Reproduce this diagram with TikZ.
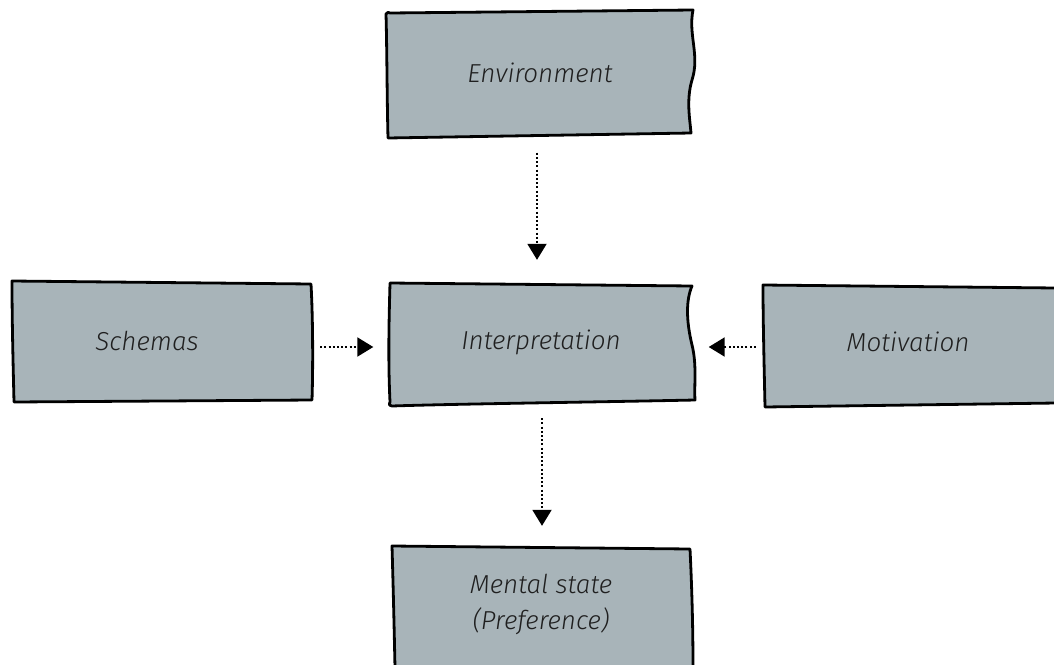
\documentclass[tikz,border=0pt]{standalone}
\usepackage{fontspec}
\setmainfont{Fira Sans Light}[ItalicFont={Fira Sans Light Italic}]
\usetikzlibrary{arrows.meta}
\definecolor{boxgray}{RGB}{168,180,185}
\tikzset{
  sketch/.style={draw=black, fill=boxgray, line width=2.8pt, line join=round, line cap=round},
  label/.style={font=\fontsize{26}{36}\selectfont\itshape, text=black!88, align=center},
  slot/.style={rectangle, inner sep=0pt},
  flow/.style={line width=2pt, dash pattern=on 2pt off 2.2pt,
    -{Triangle[length=16pt,width=19pt]}},
}
\begin{document}
\begin{tikzpicture}[x=1pt,y=-1pt]
\useasboundingbox (0,0) rectangle (1054,664);

% hand-drawn box outlines
\path[sketch] (386,14) .. controls (388,12) .. (390,13) -- (693,10)
  .. controls (688,35) and (700,55) .. (692,80)
  .. controls (686,100) and (690,120) .. (691,133)
  -- (388,138) .. controls (387,100) and (387,50) .. cycle;
\path[sketch] (12,281) -- (311,284) .. controls (313,320) and (313,370) .. (312,400)
  -- (14,402) .. controls (13,360) and (12,320) .. cycle;
\path[sketch] (390,283) -- (692,286) .. controls (686,300) and (686,320) .. (692,345)
  .. controls (697,365) and (694,385) .. (695,400)
  .. controls (600,402) and (450,404) .. (392,406) .. controls (389,405) .. (390,402)
  .. controls (388,360) and (389,320) .. cycle;
\path[sketch] (763,285) -- (1056,288) -- (1056,403) -- (765,407)
  .. controls (764,360) and (763,320) .. cycle;
\path[sketch] (392,546) -- (690,549) .. controls (692,590) and (693,630) .. (693,668)
  -- (395,668) .. controls (394,620) and (393,580) .. cycle;

% labels
\node[slot, label, minimum width=305pt, minimum height=125pt] (env) at (540,73) {Environment};
\node[slot, label, minimum width=300pt, minimum height=121pt] (sch) at (161,341) {\hspace*{-28pt}Schemas};
\node[slot, label, minimum width=305pt, minimum height=122pt] (int) at (541,342) {Interpretation};
\node[slot, label, minimum width=292pt, minimum height=121pt] (mot) at (908,342) {Motivation};
\node[slot, label, minimum width=300pt, minimum height=118pt] (men) at (541,604) {Mental state\\(Preference)};

% connectors
\draw[flow, shorten <=17pt, shorten >=21pt] (env.south -| 537,0) -- (int.north -| 537,0);
\draw[flow, shorten <=9pt, shorten >=15pt] (sch.east |- 0,347) -- (int.west |- 0,347);
\draw[flow, shorten <=6pt, shorten >=15pt] (mot.west |- 0,347) -- (int.east |- 0,347);
\draw[flow, shorten <=15pt, shorten >=19pt] (int.south -| 542,0) -- (men.north -| 542,0);
\end{tikzpicture}
\end{document}
